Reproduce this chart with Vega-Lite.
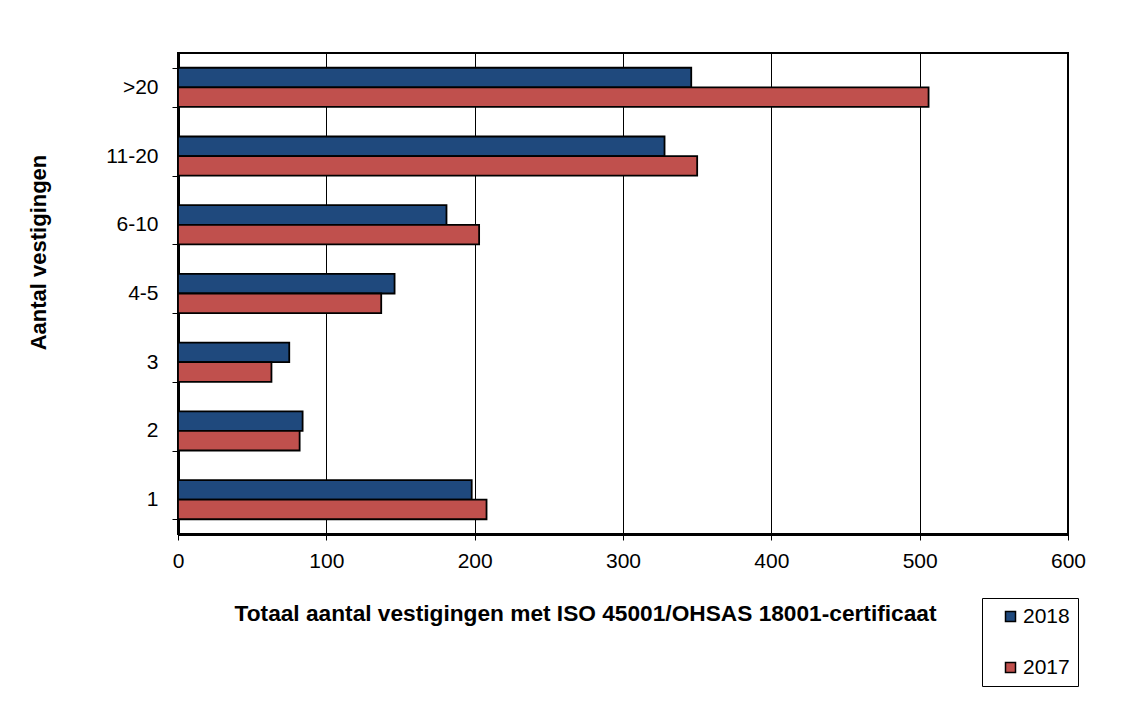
{
  "$schema": "https://vega.github.io/schema/vega-lite/v6.json",
  "width": 890,
  "height": 481,
  "autosize": {"type": "none"},
  "padding": {"left": 178, "top": 53, "right": 68, "bottom": 168},
  "background": "white",
  "config": {"font": "Liberation Sans", "view": {"stroke": "#000", "strokeWidth": 2}},
  "data": {
    "values": [
      {"cat": ">20", "year": "2018", "value": 346},
      {"cat": ">20", "year": "2017", "value": 506},
      {"cat": "11-20", "year": "2018", "value": 328},
      {"cat": "11-20", "year": "2017", "value": 350},
      {"cat": "6-10", "year": "2018", "value": 181},
      {"cat": "6-10", "year": "2017", "value": 203},
      {"cat": "4-5", "year": "2018", "value": 146},
      {"cat": "4-5", "year": "2017", "value": 137},
      {"cat": "3", "year": "2018", "value": 75},
      {"cat": "3", "year": "2017", "value": 63},
      {"cat": "2", "year": "2018", "value": 84},
      {"cat": "2", "year": "2017", "value": 82},
      {"cat": "1", "year": "2018", "value": 198},
      {"cat": "1", "year": "2017", "value": 208}
    ]
  },
  "mark": {"type": "bar", "stroke": "#000", "strokeWidth": 1.8},
  "encoding": {
    "y": {
      "field": "cat",
      "type": "nominal",
      "sort": [">20", "11-20", "6-10", "4-5", "3", "2", "1"],
      "scale": {"paddingInner": 0.43, "paddingOuter": 0.215},
      "axis": {
        "title": "Aantal vestigingen",
        "titleFontSize": 22,
        "titleFontWeight": "bold",
        "titleColor": "#000",
        "titleX": -140,
        "titleY": 199,
        "titleAngle": -90,
        "titleAlign": "center",
        "titleBaseline": "middle",
        "labelFontSize": 21,
        "labelColor": "#000",
        "labelPadding": 14,
        "tickBand": "extent",
        "tickSize": 6,
        "tickColor": "#000",
        "tickWidth": 1,
        "domainColor": "#000",
        "domainWidth": 3,
        "grid": false
      }
    },
    "x": {
      "field": "value",
      "type": "quantitative",
      "scale": {"domain": [0, 600]},
      "axis": {
        "values": [0, 100, 200, 300, 400, 500, 600],
        "grid": true,
        "gridColor": "#000",
        "gridWidth": 1,
        "labelFontSize": 21,
        "labelColor": "#000",
        "labelPadding": 10,
        "labelFlush": false,
        "labelOverlap": false,
        "tickSize": 6,
        "tickColor": "#000",
        "domainColor": "#000",
        "domainWidth": 3,
        "title": "Totaal aantal vestigingen met ISO 45001/OHSAS 18001-certificaat",
        "titleFontSize": 22.7,
        "titleFontWeight": "bold",
        "titleColor": "#000",
        "titleX": 407,
        "titleY": 79,
        "titleAlign": "center",
        "titleBaseline": "middle"
      }
    },
    "yOffset": {"field": "year", "type": "nominal", "sort": ["2018", "2017"]},
    "color": {
      "field": "year",
      "type": "nominal",
      "scale": {"domain": ["2018", "2017"], "range": ["#1F497D", "#C0504D"]},
      "legend": {
        "title": null,
        "orient": "none",
        "direction": "vertical",
        "legendX": 804,
        "legendY": 545,
        "strokeColor": "#000",
        "fillColor": "white",
        "padding": 8,
        "symbolType": "square",
        "symbolSize": 100,
        "symbolStrokeColor": "#000",
        "symbolStrokeWidth": 1.5,
        "symbolOpacity": 1,
        "symbolOffset": 10,
        "labelFontSize": 21,
        "labelColor": "#000",
        "labelOffset": 2,
        "rowPadding": 29
      }
    }
  }
}
